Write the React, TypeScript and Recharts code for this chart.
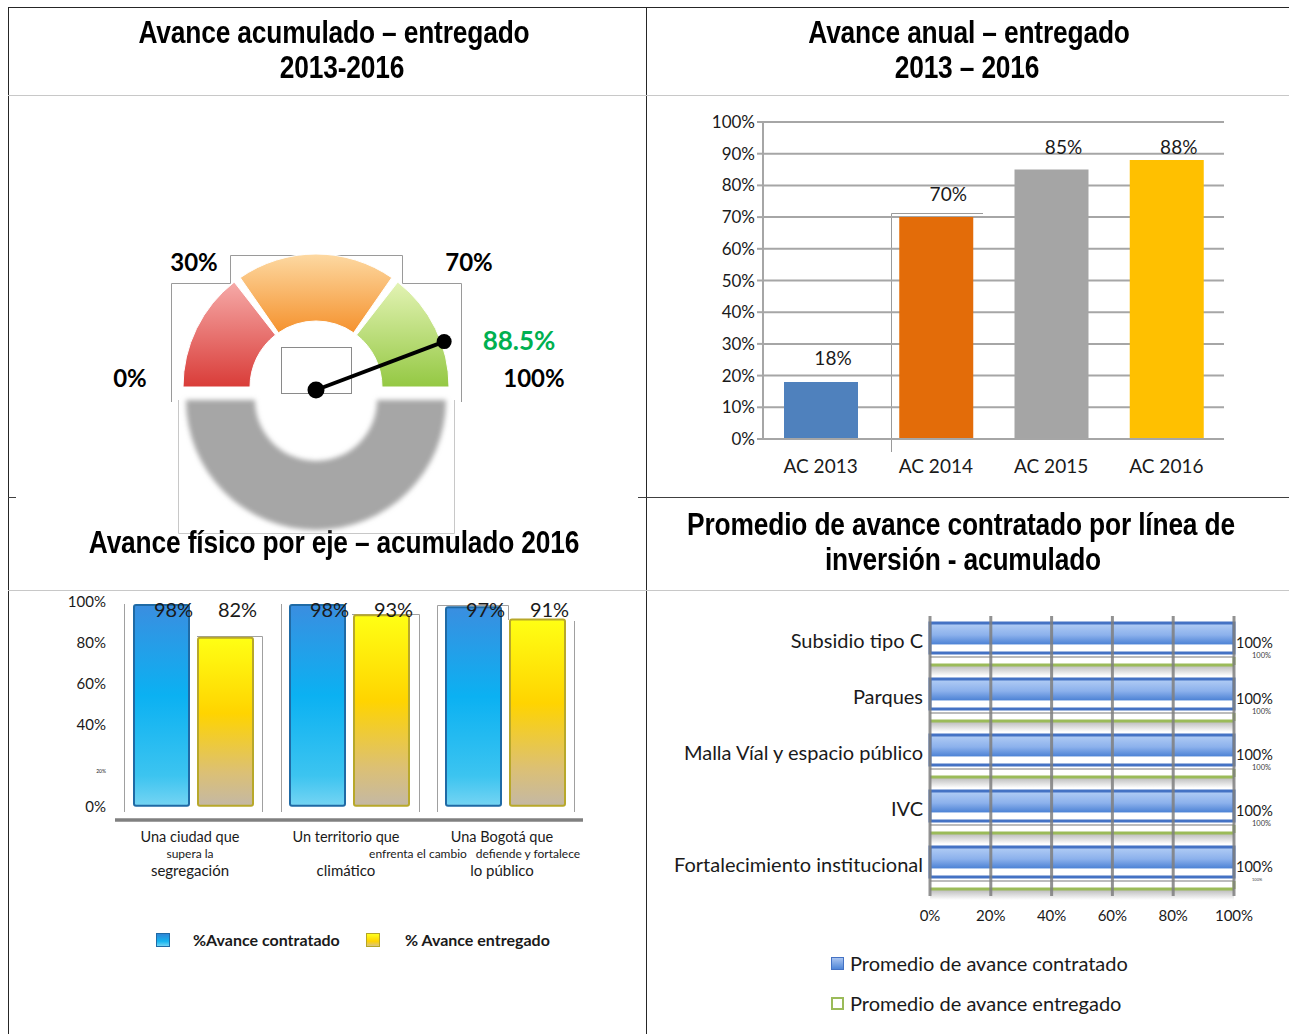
import React from 'react';
import { BarChart, Bar, XAxis, YAxis, CartesianGrid, LabelList, PieChart, Pie, Cell, Legend, ReferenceLine } from 'recharts';

// ---------- DATA ----------
// Gauge (Avance acumulado – entregado 2013-2016)
const gaugeBandNames = ['Bajo', 'Medio', 'Alto'];
const gaugeBandValues = [30, 40, 30];
const gaugeValue = 88.5;
const gaugeValueLabel = '88.5%';
const gaugeTickLabels = ['0%', '30%', '70%', '100%'];

// Avance anual – entregado
const annualCategories = ['AC 2013', 'AC 2014', 'AC 2015', 'AC 2016'];
const annualValues = [18, 70, 85, 88];
const annualTicks = [0, 10, 20, 30, 40, 50, 60, 70, 80, 90, 100];

// Avance físico por eje
const ejeLabelLines = [
  ['Una ciudad que', 'supera la', 'segregación'],
  ['Un territorio que', 'enfrenta el cambio', 'climático'],
  ['Una Bogotá que', 'defiende y fortalece', 'lo público'],
];
const ejeContratado = [98, 98, 97];
const ejeEntregado = [82, 93, 91];
const ejeTicks = [0, 20, 40, 60, 80, 100];
const ejeSeriesNames = ['%Avance contratado', '% Avance entregado'];

// Promedio por línea de inversión
const lineaCategories = ['Subsidio tipo C', 'Parques', 'Malla Víal y espacio público', 'IVC', 'Fortalecimiento institucional'];
const lineaContratado = [100, 100, 100, 100, 100];
const lineaEntregado = [100, 100, 100, 100, 100];
const lineaTicks = [0, 20, 40, 60, 80, 100];
const lineaSeriesNames = ['Promedio de avance contratado', 'Promedio de avance entregado'];

// ---------- TABLES ----------
const gaugeBands = gaugeBandNames.map((n, i) => ({ name: n, value: gaugeBandValues[i] }));
const gaugeBase = [{ name: 'base', value: 100 }];
const gaugeNeedle = [{ name: 'avance', value: gaugeValue }, { name: 'resto', value: 100 - gaugeValue }];
const annualData = annualCategories.map((c, i) => ({ name: c, value: annualValues[i] }));
const ejeData = ejeLabelLines.map((l, i) => ({ key: String(i), contratado: ejeContratado[i], entregado: ejeEntregado[i] }));
const lineaData = lineaCategories.map((c, i) => ({ name: c, contratado: lineaContratado[i], entregado: lineaEntregado[i] }));

// ---------- STYLE ----------
const FONT = "Lato, 'Open Sans', sans-serif";
const TITLE_FONT = "'Liberation Sans', Arial, sans-serif";
const annualColors = ['#4f81bd', '#e36c09', '#a5a5a5', '#ffc000'];
const bandGradients = ['gRed', 'gOrange', 'gGreen'];
const RAD = Math.PI / 180;

const titleStyle = (center: number, top: number): React.CSSProperties => ({
  position: 'absolute', left: center - 400, top, width: 800, textAlign: 'center', fontFamily: TITLE_FONT,
  fontWeight: 700, fontSize: 31, lineHeight: '35px', color: '#000', whiteSpace: 'nowrap',
  transform: 'scaleX(0.85)', transformOrigin: '50% 50%', letterSpacing: '-0.2px',
});

const renderNeedle = (p: any) => {
  if (p.index !== 0) return null;
  const { cx, cy, outerRadius, endAngle } = p;
  const x2 = cx + outerRadius * Math.cos(-endAngle * RAD);
  const y2 = cy + outerRadius * Math.sin(-endAngle * RAD);
  return (
    <g key="needle">
      <line x1={cx} y1={cy} x2={x2} y2={y2} stroke="#000" strokeWidth={4} />
      <circle cx={cx} cy={cy} r={8.5} fill="#000" />
      <circle cx={x2} cy={y2} r={7.5} fill="#000" />
    </g>
  );
};

const AnnualLabel = (p: any) => {
  const { x, y, width, value } = p;
  const cy = Math.max(y - 24, 46);
  return (
    <text x={x + width / 2 + 12} y={cy} textAnchor="middle" dominantBaseline="central" fontSize={19} fontFamily={FONT} fill="#1a1a1a">
      {value}%
    </text>
  );
};

const EjeLabel = (p: any) => {
  const { x, width, value } = p;
  return (
    <text x={x + width / 2 + 12} y={29} textAnchor="middle" dominantBaseline="central" fontSize={20} fontFamily={FONT} fill="#1a1a1a">
      {value}%
    </text>
  );
};

const EjeYTick = (p: any) => {
  const { x, y, payload } = p;
  const small = payload.value === 20;
  return (
    <text x={x} y={small ? y + 6 : y} textAnchor="end" dominantBaseline="central" fontSize={small ? 5 : 15} fontFamily={FONT} fill="#1a1a1a">
      {payload.value}%
    </text>
  );
};

const ejeMidOffsets = [-3, 69, 23];
const EjeXTick = (p: any) => {
  const { x, y, payload } = p;
  const i = Number(payload.value);
  const lines = ejeLabelLines[i];
  return (
    <g fontFamily={FONT} fill="#1a1a1a" textAnchor="middle">
      <text x={x - 3} y={y + 16} dominantBaseline="central" fontSize={14.5}>{lines[0]}</text>
      <text x={x + ejeMidOffsets[i]} y={y + 33} dominantBaseline="central" fontSize={12}>{lines[1]}</text>
      <text x={x - 3} y={y + 50} dominantBaseline="central" fontSize={15}>{lines[2]}</text>
    </g>
  );
};

const EjeLegend = () => (
  <div style={{ position: 'relative', width: 640, height: 30, fontFamily: FONT, fontWeight: 700, fontSize: 16, color: '#1a1a1a' }}>
    {ejeSeriesNames.map((n, i) => (
      <div key={n} style={{ position: 'absolute', left: i === 0 ? 156 : 366, top: 7, display: 'flex', alignItems: 'center' }}>
        <span style={{ display: 'inline-block', width: 12, height: 12, marginRight: i === 0 ? 23 : 25, border: i === 0 ? '1px solid #1f6aa5' : '1px solid #b5a526', background: i === 0 ? 'linear-gradient(#2f86d6, #14b4f0 60%, #6fd3f3)' : 'linear-gradient(#ffff20, #ffd200 60%, #d8c480)' }} />
        <span>{n}</span>
      </div>
    ))}
  </div>
);

const LineaYTick = (p: any) => {
  const { x, y, payload } = p;
  return (
    <text x={x} y={y - 4} textAnchor="end" dominantBaseline="central" fontSize={20} fontFamily={FONT} fill="#1a1a1a">
      {payload.value}
    </text>
  );
};

const LineaBlueLabel = (p: any) => {
  const { x, y, width, height, value } = p;
  return (
    <text x={x + width + 2} y={y + height / 2 + 4} dominantBaseline="central" fontSize={14.5} fontFamily={FONT} fill="#1a1a1a">
      {value}%
    </text>
  );
};

const LineaGreenLabel = (p: any) => {
  const { x, y, width, height, value, index } = p;
  return (
    <text x={x + width + 18} y={y + height / 2 - 6} dominantBaseline="central" fontSize={index === 4 ? 4 : 7.5} fontFamily={FONT} fill="#404040">
      {value}%
    </text>
  );
};

const GreenBar = (p: any) => {
  const { x, y, width, height } = p;
  if (width == null || height == null) return null;
  return (
    <g>
      <rect x={x} y={y + height + 1} width={width} height={10} fill="url(#gShadow)" />
      <rect x={x} y={y} width={width} height={height} fill="#fff" />
      <line x1={x} y1={y} x2={x + width} y2={y} stroke="#a6a6a6" strokeWidth={1.5} />
      <line x1={x} y1={y + height} x2={x + width} y2={y + height} stroke="#9bbb59" strokeWidth={3} />
      <line x1={x + width} y1={y} x2={x + width} y2={y + height} stroke="#9bbb59" strokeWidth={3} />
    </g>
  );
};

const LineaLegend = () => (
  <div style={{ position: 'relative', width: 630, height: 80, fontFamily: FONT, fontSize: 20, color: '#1a1a1a' }}>
    {lineaSeriesNames.map((n, i) => (
      <div key={n} style={{ position: 'absolute', left: 171, top: i === 0 ? 10 : 50, display: 'flex', alignItems: 'center', height: 26 }}>
        <span style={{ display: 'inline-block', width: 13, height: 13, marginRight: 6, border: i === 0 ? '1px solid #4472c4' : '2px solid #9bbb59', boxSizing: 'border-box', background: i === 0 ? 'linear-gradient(#a9c4f0, #4f86d8)' : '#fff' }} />
        <span>{n}</span>
      </div>
    ))}
  </div>
);

export default function App() {
  return (
    <div style={{ position: 'absolute', left: 0, top: 0, width: 1289, height: 1034, background: '#fff', overflow: 'hidden', fontFamily: FONT }}>
      {/* frame lines */}
      <svg width={1289} height={1034} style={{ position: 'absolute', left: 0, top: 0 }}>
        <line x1={8} y1={7.5} x2={1289} y2={7.5} stroke="#262626" strokeWidth={1} />
        <line x1={8.5} y1={7} x2={8.5} y2={1034} stroke="#262626" strokeWidth={1} />
        <line x1={646.5} y1={7} x2={646.5} y2={1034} stroke="#262626" strokeWidth={1} />
        <line x1={8} y1={95.5} x2={1289} y2={95.5} stroke="#c8c8c8" strokeWidth={1} />
        <line x1={8} y1={497.5} x2={16} y2={497.5} stroke="#404040" strokeWidth={1} />
        <line x1={638} y1={497.5} x2={1289} y2={497.5} stroke="#404040" strokeWidth={1} />
        <line x1={8} y1={590.5} x2={1289} y2={590.5} stroke="#c8c8c8" strokeWidth={1} />
        {/* gauge frame remnants */}
        <polyline points="171.5,402 171.5,283.5 230.5,283.5 230.5,255.5 402.5,255.5 402.5,283.5 461.5,283.5 461.5,402" fill="none" stroke="#9a9a9a" strokeWidth={1} />
        <rect x={281.5} y={347.5} width={70} height={46} fill="none" stroke="#8a8a8a" strokeWidth={1} />
        <polyline points="178.5,400 178.5,533.5 454.5,533.5 454.5,400" fill="none" stroke="#c8c8c8" strokeWidth={1} />
        {/* annual frame remnant */}
        <polyline points="891.5,452 891.5,213.5 983,213.5" fill="none" stroke="#9a9a9a" strokeWidth={1} />
        {/* eje frame remnants */}
        <g fill="none" stroke="#a0a0a0" strokeWidth={1}>
          <line x1={124.5} y1={604} x2={124.5} y2={812} />
          <polyline points="197,636.5 262.5,636.5 262.5,812" />
          <line x1={281.5} y1={604} x2={281.5} y2={812} />
          <polyline points="352,614.5 419.5,614.5 419.5,812" />
          <polyline points="437.5,812 437.5,605.5 508.5,605.5 508.5,620" />
          <line x1={574.5} y1={621} x2={574.5} y2={812} />
        </g>
      </svg>

      {/* titles */}
      <div style={titleStyle(334, 15)}>Avance acumulado – entregado</div>
      <div style={titleStyle(342, 50)}>2013-2016</div>
      <div style={titleStyle(969, 15)}>Avance anual – entregado</div>
      <div style={titleStyle(967, 50)}>2013 – 2016</div>
      <div style={titleStyle(334, 525)}>Avance físico por eje – acumulado 2016</div>
      <div style={titleStyle(961, 507)}>Promedio de avance contratado por línea de</div>
      <div style={titleStyle(963, 542)}>inversión - acumulado</div>

      {/* gauge */}
      <div style={{ position: 'absolute', left: 0, top: 100 }}>
        <PieChart width={640} height={440} margin={{ top: 0, right: 0, bottom: 0, left: 0 }}>
          <defs>
            <linearGradient id="gRed" x1="0" y1="0" x2="0" y2="1">
              <stop offset="0%" stopColor="#f6aaa8" />
              <stop offset="100%" stopColor="#d93c38" />
            </linearGradient>
            <linearGradient id="gOrange" x1="0" y1="0" x2="0" y2="1">
              <stop offset="0%" stopColor="#fdd9a2" />
              <stop offset="100%" stopColor="#f5922e" />
            </linearGradient>
            <linearGradient id="gGreen" x1="0" y1="0" x2="0" y2="1">
              <stop offset="0%" stopColor="#e3f3b4" />
              <stop offset="100%" stopColor="#94c843" />
            </linearGradient>
            <filter id="blurGray" x="-20%" y="-20%" width="140%" height="140%">
              <feGaussianBlur stdDeviation="2.5" />
            </filter>
          </defs>
          <Pie data={gaugeBase} dataKey="value" cx={316} cy={300} startAngle={180} endAngle={360} innerRadius={61} outerRadius={130} stroke="none" isAnimationActive={false}>
            <Cell fill="#a6a6a6" filter="url(#blurGray)" />
          </Pie>
          <Pie data={gaugeBands} dataKey="value" cx={316} cy={287} startAngle={180} endAngle={0} innerRadius={66} outerRadius={133} paddingAngle={3.2} stroke="#ffffff" strokeWidth={1} isAnimationActive={false}>
            {gaugeBands.map((b, i) => <Cell key={b.name} fill={`url(#${bandGradients[i]})`} />)}
          </Pie>
          <Pie data={gaugeNeedle} dataKey="value" cx={316} cy={290} startAngle={180} endAngle={0} innerRadius={0} outerRadius={137} stroke="none" fill="none" label={renderNeedle} labelLine={false} isAnimationActive={false}>
            {gaugeNeedle.map((n) => <Cell key={n.name} fill="none" />)}
          </Pie>
        </PieChart>
      </div>
      {/* gauge labels */}
      <div style={{ position: 'absolute', left: 0, top: 0, fontFamily: FONT, fontWeight: 700, fontSize: 24, color: '#000' }}>
        <div style={{ position: 'absolute', left: 100, top: 363, width: 60, textAlign: 'center' }}>{gaugeTickLabels[0]}</div>
        <div style={{ position: 'absolute', left: 154, top: 247, width: 80, textAlign: 'center' }}>{gaugeTickLabels[1]}</div>
        <div style={{ position: 'absolute', left: 429, top: 247, width: 80, textAlign: 'center' }}>{gaugeTickLabels[2]}</div>
        <div style={{ position: 'absolute', left: 489, top: 363, width: 90, textAlign: 'center' }}>{gaugeTickLabels[3]}</div>
        <div style={{ position: 'absolute', left: 469, top: 324, width: 100, textAlign: 'center', color: '#00b050', fontSize: 26 }}>{gaugeValueLabel}</div>
      </div>

      {/* annual bar chart */}
      <div style={{ position: 'absolute', left: 690, top: 100 }}>
        <BarChart width={560} height={390} data={annualData} margin={{ top: 22, right: 26, bottom: 0, left: 0 }}>
          <CartesianGrid vertical={false} stroke="#a6a6a6" strokeWidth={2} />
          <YAxis type="number" domain={[0, 100]} ticks={annualTicks} interval={0} tickFormatter={(v: number) => `${v}%`} width={73}
            tick={{ fontSize: 17, fill: '#1a1a1a', fontFamily: FONT }} axisLine={{ stroke: '#a6a6a6', strokeWidth: 2 }} tickLine={{ stroke: '#a6a6a6', strokeWidth: 2 }} tickSize={6} tickMargin={2} />
          <XAxis dataKey="name" height={51} tickLine={false} axisLine={{ stroke: '#a6a6a6', strokeWidth: 2 }} tickMargin={15}
            tick={{ fontSize: 19, fill: '#1a1a1a', fontFamily: FONT }} />
          <Bar dataKey="value" barSize={74} isAnimationActive={false}>
            {annualData.map((d, i) => <Cell key={d.name} fill={annualColors[i]} />)}
            <LabelList dataKey="value" content={AnnualLabel} />
          </Bar>
        </BarChart>
      </div>

      {/* eje grouped bar chart */}
      <div style={{ position: 'absolute', left: 0, top: 580 }}>
        <BarChart width={640} height={373} data={ejeData} margin={{ top: 21, right: 57, bottom: 0, left: 0 }} barGap={9}>
          <defs>
            <linearGradient id="gBlueBar" x1="0" y1="0" x2="0" y2="1">
              <stop offset="0%" stopColor="#3a8ee0" />
              <stop offset="45%" stopColor="#0bb1f2" />
              <stop offset="85%" stopColor="#3cc4f0" />
              <stop offset="100%" stopColor="#75d4f3" />
            </linearGradient>
            <linearGradient id="gYellowBar" x1="0" y1="0" x2="0" y2="1">
              <stop offset="0%" stopColor="#ffff14" />
              <stop offset="45%" stopColor="#ffd400" />
              <stop offset="80%" stopColor="#dcc074" />
              <stop offset="100%" stopColor="#c4b8a4" />
            </linearGradient>
          </defs>
          <YAxis type="number" domain={[-7, 100]} ticks={ejeTicks} interval={0} width={115} axisLine={false} tickLine={false} tickSize={6} tickMargin={3} tick={EjeYTick} />
          <XAxis dataKey="key" height={103} interval={0} tickLine={false} tickSize={0} tickMargin={0} axisLine={{ stroke: '#808080', strokeWidth: 3.5 }} tick={EjeXTick} />
          <Legend verticalAlign="bottom" content={EjeLegend} wrapperStyle={{ left: 0, width: 640, height: 30 }} />
          <Bar dataKey="contratado" name={ejeSeriesNames[0]} barSize={55} fill="url(#gBlueBar)" stroke="#1f6aa5" strokeWidth={2} radius={2} isAnimationActive={false}>
            <LabelList dataKey="contratado" content={EjeLabel} />
          </Bar>
          <Bar dataKey="entregado" name={ejeSeriesNames[1]} barSize={55} fill="url(#gYellowBar)" stroke="#b8a82a" strokeWidth={2} radius={2} isAnimationActive={false}>
            <LabelList dataKey="entregado" content={EjeLabel} />
          </Bar>
        </BarChart>
      </div>

      {/* linea horizontal bar chart */}
      <div style={{ position: 'absolute', left: 660, top: 600 }}>
        <BarChart width={630} height={430} data={lineaData} layout="vertical" margin={{ top: 16, right: 56, bottom: 10, left: 0 }} barGap={4} barCategoryGap={0}>
          <defs>
            <linearGradient id="gBlueH" x1="0" y1="0" x2="0" y2="1">
              <stop offset="0%" stopColor="#b3cef5" />
              <stop offset="40%" stopColor="#8cb1ec" />
              <stop offset="70%" stopColor="#4f84d6" />
              <stop offset="73%" stopColor="#ffffff" />
              <stop offset="100%" stopColor="#ffffff" />
            </linearGradient>
            <linearGradient id="gShadow" x1="0" y1="0" x2="0" y2="1">
              <stop offset="0%" stopColor="#bdbdbd" />
              <stop offset="100%" stopColor="#ffffff" />
            </linearGradient>
          </defs>
          <XAxis type="number" domain={[0, 100]} ticks={lineaTicks} interval={0} tickFormatter={(v: number) => `${v}%`} height={44}
            axisLine={false} tickLine={false} tickSize={6} tickMargin={8} tick={{ fontSize: 15, fill: '#1a1a1a', fontFamily: FONT }} />
          <YAxis type="category" dataKey="name" width={270} axisLine={false} tickLine={false} tickSize={0} tickMargin={7} interval={0} tick={LineaYTick} />
          <Legend verticalAlign="bottom" content={LineaLegend} wrapperStyle={{ left: 0, width: 630, height: 80 }} />
          <Bar dataKey="contratado" name={lineaSeriesNames[0]} barSize={30} fill="url(#gBlueH)" stroke="#4472c4" strokeWidth={3} isAnimationActive={false}>
            <LabelList dataKey="contratado" content={LineaBlueLabel} />
          </Bar>
          <Bar dataKey="entregado" name={lineaSeriesNames[1]} barSize={8} shape={GreenBar} isAnimationActive={false}>
            <LabelList dataKey="entregado" content={LineaGreenLabel} />
          </Bar>
          {lineaTicks.map((t) => (
            <ReferenceLine key={t} x={t} stroke="#7f7f7f" strokeWidth={3} strokeOpacity={0.85} />
          ))}
        </BarChart>
      </div>
    </div>
  );
}
